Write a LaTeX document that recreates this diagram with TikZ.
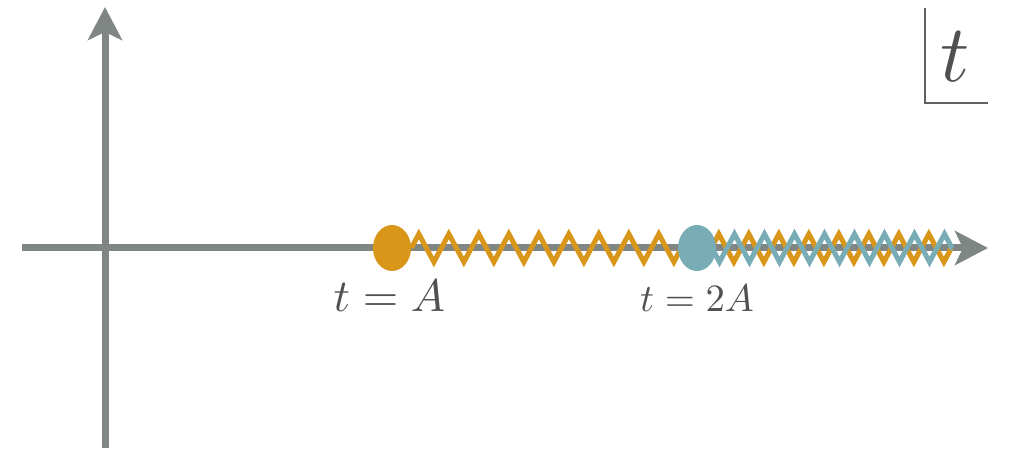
\documentclass[tikz,border=0pt]{standalone}
\usetikzlibrary{arrows.meta,positioning,shapes.geometric,decorations.pathmorphing}

\definecolor{axisgray}{RGB}{127,134,131}
\definecolor{springorange}{RGB}{216,150,26}
\definecolor{springblue}{RGB}{120,173,181}
\definecolor{labelgray}{RGB}{80,80,80}

\tikzset{
    axis/.style={draw=axisgray, line width=0.14cm,
        -{Stealth[length=0.66cm, width=0.68cm, inset=0.16cm]}},
    spring/.style={line width=0.1cm, decorate,
        decoration={zigzag, segment length=0.6cm, amplitude=0.28cm}},
    dot/.style={ellipse, minimum width=0.76cm, minimum height=0.92cm, inner sep=0pt},
    tlabel/.style={text=labelgray, inner sep=0pt}
}

\begin{document}
\begin{tikzpicture}
    \useasboundingbox (0,0) rectangle (20.18,9.04);

    % Axes
    \coordinate (ybot) at (2.1,0.08);
    \coordinate (ytop) at (2.1,8.9);
    \coordinate (xleft) at (0.44,4.08);
    \coordinate (xright) at (19.76,4.08);
    \draw[axis] (ybot) -- (ytop);
    \draw[axis] (xleft) -- (xright);

    % Events on the axis
    \node[dot] (odot) at (7.84,4.08) {};
    \node[dot] (bdot) at (13.94,4.08) {};
    \coordinate (zend) at (19.05,4.08);

    % Springs
    \draw[spring, springorange] (odot.east) -- (zend);
    \draw[spring, springblue] (bdot.center) -- (zend);
    \fill[springorange] (odot.center) ellipse (0.38cm and 0.46cm);
    \fill[springblue] (bdot.center) ellipse (0.38cm and 0.46cm);

    % Labels
    \node[tlabel, scale=2.6, below=0.16cm of odot, xshift=-0.02cm] (alabel) {$t = A$};
    \node[tlabel, scale=2.2, below=0.26cm of bdot] (blabel) {$t = 2A$};

    % Variable box
    \coordinate (boxtop) at (18.5,8.88);
    \coordinate (boxright) at (19.76,6.98);
    \draw[labelgray!90, line width=0.04cm] (boxtop) |- (boxright);
    \node[tlabel, scale=4.6] (tvar) at (19.1,7.9) {$t$};
\end{tikzpicture}
\end{document}
